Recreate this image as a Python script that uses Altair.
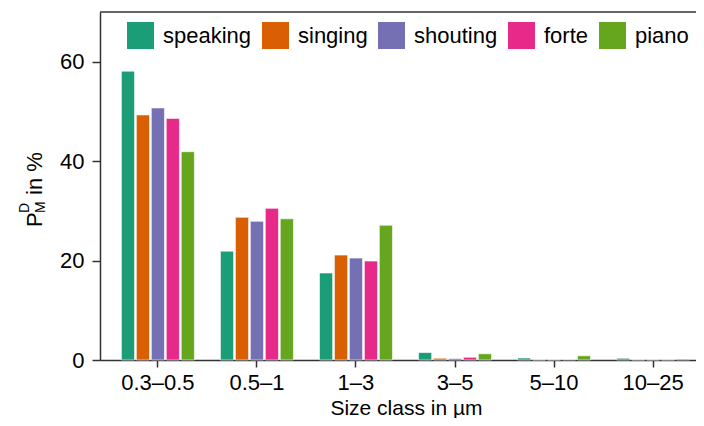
import altair as alt
import pandas as pd

size_classes = ["0.3–0.5", "0.5–1", "1–3", "3–5", "5–10", "10–25"]
series = ["speaking", "singing", "shouting", "forte", "piano"]
colors = ["#1B9E77", "#D95F02", "#7570B3", "#E7298A", "#66A61E"]

speaking = [58.1, 21.9, 17.5, 1.5, 0.4, 0.35]
singing = [49.3, 28.7, 21.1, 0.35, 0.05, 0.05]
shouting = [50.7, 27.9, 20.5, 0.3, 0.05, 0.05]
forte = [48.6, 30.5, 19.9, 0.55, 0.1, 0.05]
piano = [41.9, 28.4, 27.1, 1.25, 0.85, 0.2]

y_ticks = [0, 20, 40, 60]
x_title = "Size class in µm"

rows = []
for s, vals in zip(series, [speaking, singing, shouting, forte, piano]):
    for c, v in zip(size_classes, vals):
        rows.append({"size": c, "mode": s, "pct": v})
df = pd.DataFrame(rows)

FONT = "Liberation Sans"
AX = "#333333"

bars = alt.Chart(df).mark_bar(stroke="white", strokeWidth=0.6).encode(
    x=alt.X(
        "size:N",
        sort=size_classes,
        scale=alt.Scale(paddingInner=0.263, paddingOuter=0.216, range=[0, 611]),
        axis=alt.Axis(
            title=x_title,
            titleX=306,
            titleY=54,
            titleFontSize=21,
            titleBaseline="alphabetic",
            labelAngle=0,
            tickSize=7,
            labelPadding=5,
        ),
    ),
    xOffset=alt.XOffset("mode:N", sort=series, scale=alt.Scale(paddingInner=0.12)),
    y=alt.Y(
        "pct:Q",
        scale=alt.Scale(domain=[0, 70], nice=False, zero=True),
        axis=alt.Axis(values=y_ticks, title=None, grid=False, tickSize=8, labelPadding=8),
    ),
    color=alt.Color(
        "mode:N",
        sort=series,
        scale=alt.Scale(domain=series, range=colors),
        legend=alt.Legend(
            title=None,
            orient="none",
            direction="horizontal",
            legendX=27,
            legendY=10,
            symbolType="square",
            symbolSize=729,
            symbolStrokeWidth=0,
            symbolOpacity=1,
            labelFontSize=22,
            labelFont=FONT,
            labelColor="black",
            labelOffset=9,
            columnPadding=10,
            labelLimit=300,
            padding=0,
        ),
    ),
)

top_line = alt.Chart(pd.DataFrame({"k": [0]})).mark_rule(color=AX, strokeWidth=1.5).encode(
    y=alt.datum(70)
)


def ytext(txt, x, y, size):
    return alt.Chart(pd.DataFrame({"t": [txt]})).mark_text(
        angle=270, align="left", baseline="alphabetic", fontSize=size, font=FONT, color="black"
    ).encode(x=alt.value(x), y=alt.value(y), text="t:N")


ytitle = [
    ytext("P", -58, 215, 22),
    ytext("D", -71, 201, 14),
    ytext("M", -55, 201, 14),
    ytext("in %", -58, 183, 22),
]

chart = alt.layer(bars, top_line, *ytitle).properties(
    width=596,
    height=348,
    autosize=alt.AutoSizeParams(type="none"),
    padding={"left": 92, "top": 4, "right": 0, "bottom": 58},
).configure_view(strokeWidth=0).configure_axis(
    domainColor=AX,
    domainWidth=1.5,
    tickColor=AX,
    tickWidth=1.5,
    labelFont=FONT,
    labelFontSize=22,
    labelColor="black",
    titleFont=FONT,
    titleFontSize=22,
    titleFontWeight="normal",
    titleColor="black",
)

chart.save("out.html", embed_options={"renderer": "svg", "actions": False})
